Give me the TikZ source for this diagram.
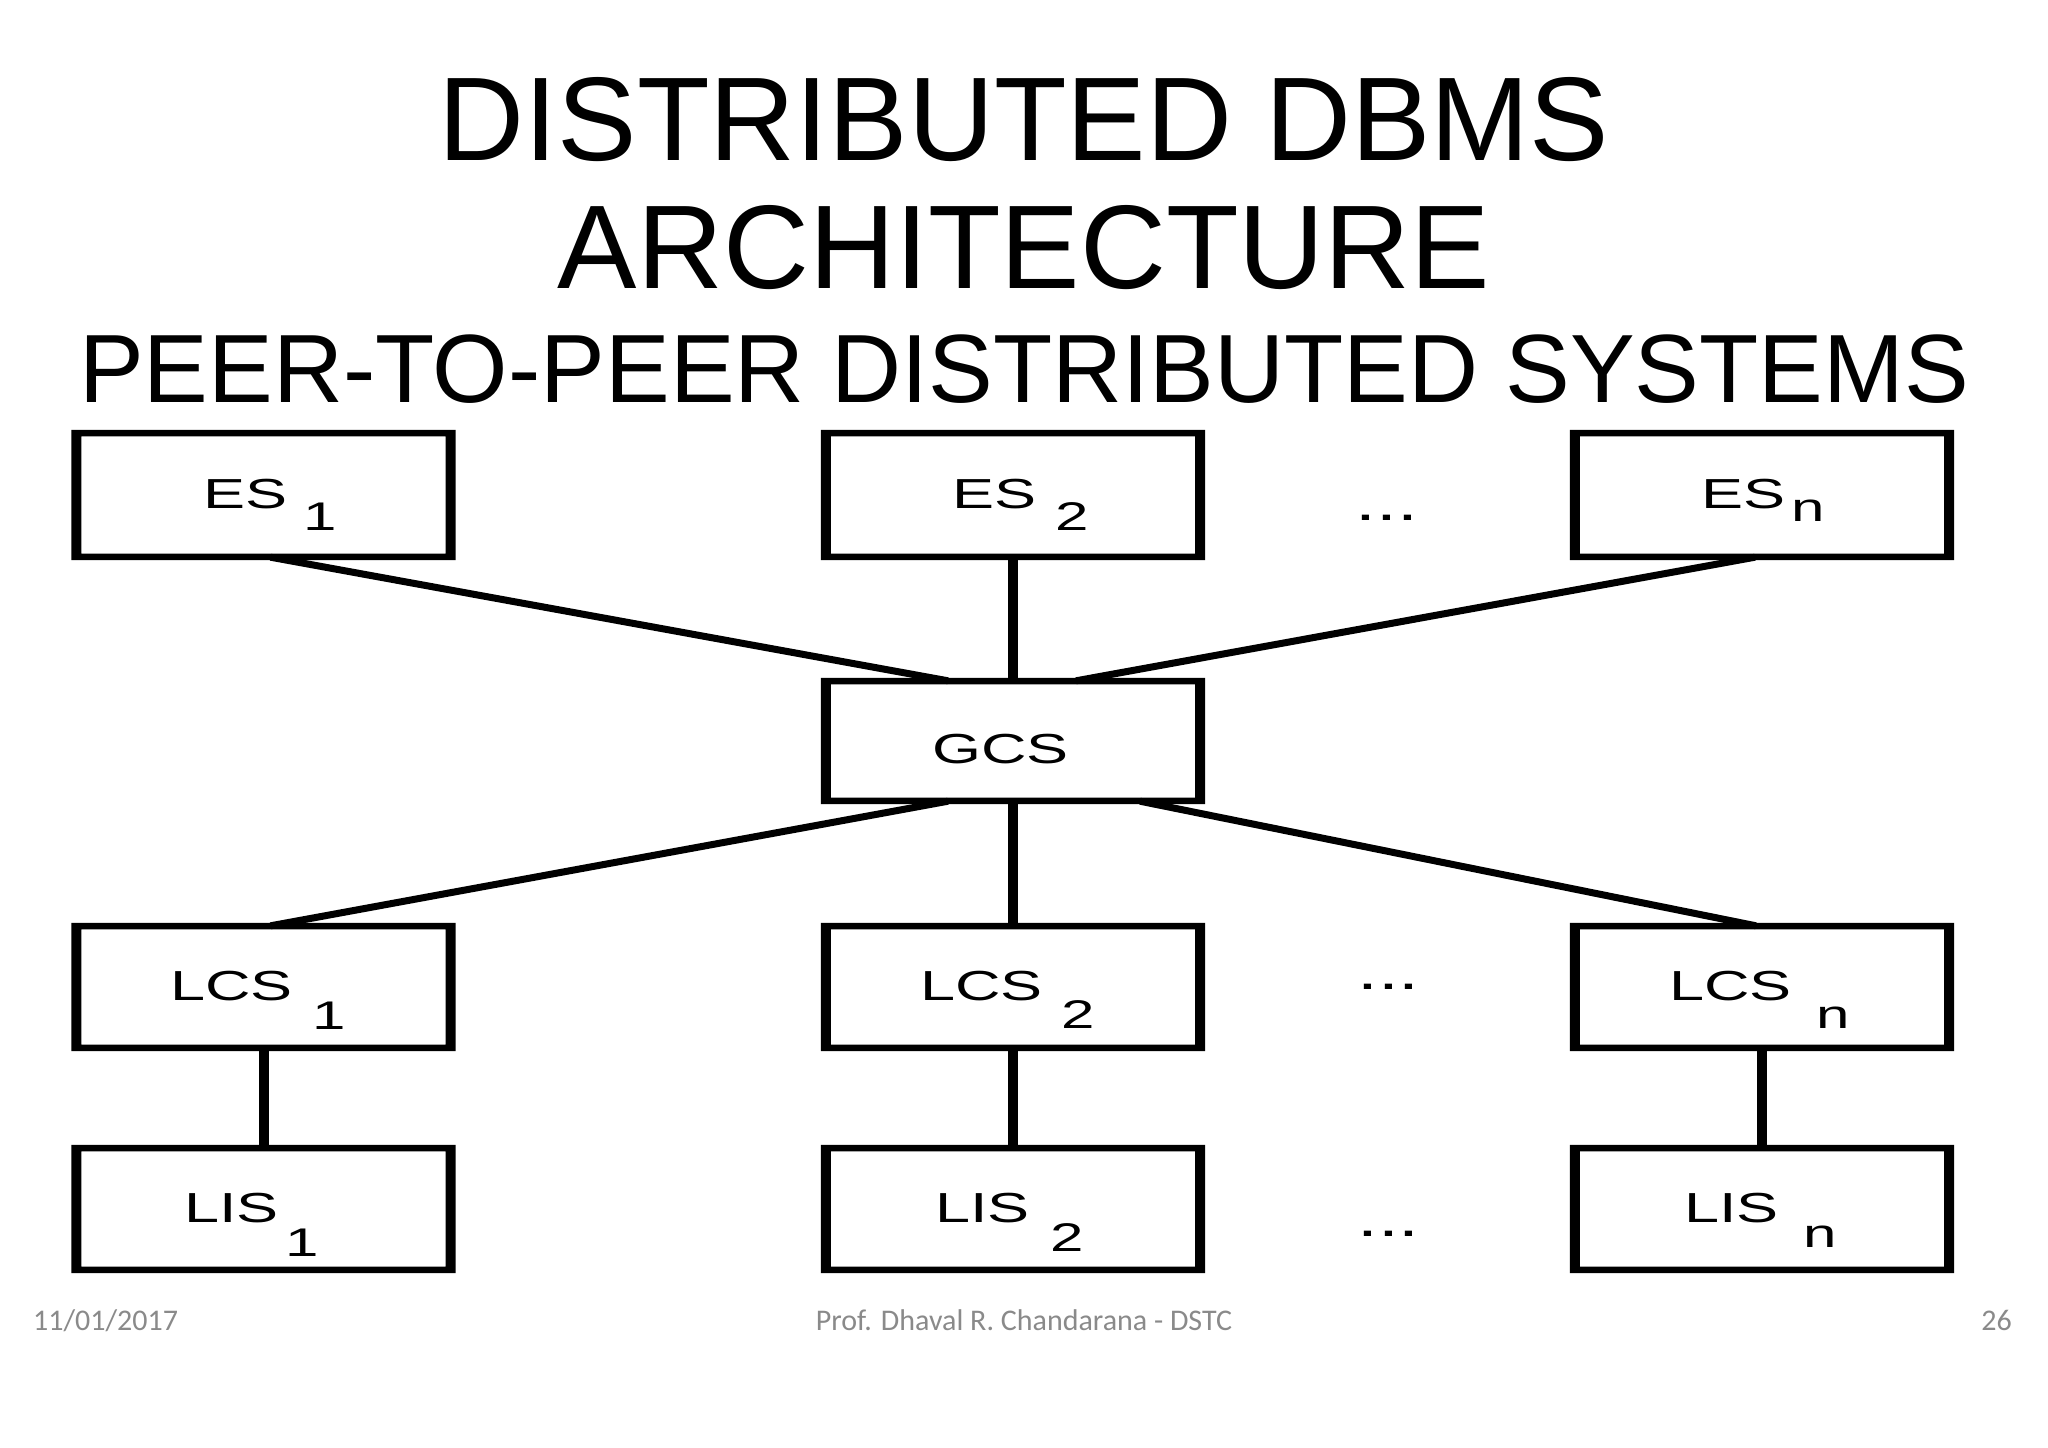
\documentclass[tikz,border=0pt]{standalone}
\usepackage{fontspec}
\setmainfont{Liberation Sans}
\newfontfamily\dfont[FakeStretch=1.5]{Liberation Sans}
\newfontfamily\ffont{Carlito}
\definecolor{footgray}{HTML}{8A8A8A}
\newcommand{\lbl}[4]{{\fontsize{42}{42}\selectfont #1}\kern#2pt\raisebox{-#3pt}{\fontsize{40}{40}\selectfont #4}}
\begin{document}
\begin{tikzpicture}[x=1pt,y=-1pt,
  boxnode/.style={rectangle, minimum width=384pt, inner sep=0pt},
  lbltxt/.style={anchor=base west, inner sep=0pt, font=\dfont},
  dotstxt/.style={anchor=base west, inner sep=0pt, font=\dfont\fontsize{50}{50}\selectfont},
  diag/.style={line width=7pt},
  vert/.style={line width=10pt},
  foot/.style={inner sep=0pt, font=\ffont\fontsize{30}{30}\selectfont, text=footgray},
  ttl/.style={anchor=base, inner sep=0pt}]
\fill[white] (0,0) rectangle (2048,1448);
\useasboundingbox (0,0) rectangle (2048,1448);

% titles
\node[ttl, font=\fontsize{119}{119}\selectfont] (t1) at (1024,160) {DISTRIBUTED DBMS};
\node[ttl, font=\fontsize{119}{119}\selectfont] (t2) at (1024,288) {ARCHITECTURE};
\node[ttl, font=\fontsize{97}{97}\selectfont] (t3) at (1024,402) {PEER-TO-PEER DISTRIBUTED SYSTEMS};

% boxes
\node[boxnode, minimum height=130pt] (es1) at (263.5,495) {};
\node[boxnode, minimum height=130pt] (es2) at (1013,495) {};
\node[boxnode, minimum height=130pt] (esn) at (1762,495) {};
\node[boxnode, minimum height=126pt] (gcs) at (1013,741) {};
\node[boxnode, minimum height=128pt] (lcs1) at (263.5,987) {};
\node[boxnode, minimum height=128pt] (lcs2) at (1013,987) {};
\node[boxnode, minimum height=128pt] (lcsn) at (1762,987) {};
\node[boxnode, minimum height=128pt] (lis1) at (263.5,1209) {};
\node[boxnode, minimum height=128pt] (lis2) at (1013,1209) {};
\node[boxnode, minimum height=128pt] (lisn) at (1762,1209) {};

% connectors
\draw[diag] ([xshift=7pt,yshift=3pt]es1.south) -- ([xshift=-65pt,yshift=-3pt]gcs.north);
\draw[vert] ([yshift=3pt]es2.south) -- ([yshift=-3pt]gcs.north);
\draw[diag] ([xshift=-7pt,yshift=3pt]esn.south) -- ([xshift=63pt,yshift=-3pt]gcs.north);
\draw[diag] ([xshift=-65pt,yshift=3pt]gcs.south) -- ([xshift=7pt,yshift=-3pt]lcs1.north);
\draw[vert] ([yshift=3pt]gcs.south) -- ([yshift=-3pt]lcs2.north);
\draw[diag] ([xshift=127pt,yshift=3pt]gcs.south) -- ([xshift=-6pt,yshift=-3pt]lcsn.north);
\draw[vert] ([yshift=3pt]lcs1.south) -- ([yshift=-3pt]lis1.north);
\draw[vert] ([yshift=3pt]lcs2.south) -- ([yshift=-3pt]lis2.north);
\draw[vert] ([yshift=3pt]lcsn.south) -- ([yshift=-3pt]lisn.north);

% box frames (thicker sides than top/bottom)
\foreach \n in {es1,es2,esn,gcs,lcs1,lcs2,lcsn,lis1,lis2,lisn}
  \fill[black, even odd rule] (\n.south west) rectangle (\n.north east)
    ([xshift=10pt,yshift=6.5pt]\n.south west) rectangle ([xshift=-10pt,yshift=-6.5pt]\n.north east);

% labels
\node[lbltxt] (es1t) at (203,508) {\lbl{ES}{16.5}{22}{1}};
\node[lbltxt] (es2t) at (952,508) {\lbl{ES}{19}{22}{2}};
\node[lbltxt] (esnt) at (1701,508) {\lbl{ES}{6}{13}{n}};
\node[lbltxt] (gcst) at (932,763) {{\fontsize{42}{42}\selectfont GCS}};
\node[lbltxt] (lcs1t) at (170,1000) {\lbl{LCS}{20}{29}{1}};
\node[lbltxt] (lcs2t) at (920,1000) {\lbl{LCS}{19}{28}{2}};
\node[lbltxt] (lcsnt) at (1669,1000) {\lbl{LCS}{25}{28}{n}};
\node[lbltxt] (lis1t) at (184,1222) {\lbl{LIS}{6.5}{34}{1}};
\node[lbltxt] (lis2t) at (935,1222) {\lbl{LIS}{21}{29}{2}};
\node[lbltxt] (lisnt) at (1684,1222) {\lbl{LIS}{25}{25}{n}};

% ellipses
\node[dotstxt] (d1) at (1355.5,520) {...};
\node[dotstxt] (d2) at (1357,989) {...};
\node[dotstxt] (d3) at (1357,1236) {...};

% footer
\node[foot, anchor=base west] (date) at (33,1330) {11/01/2017};
\node[foot, anchor=base] (auth) at (1024,1330) {Prof. Dhaval R. Chandarana - DSTC};
\node[foot, anchor=base east] (pg) at (2012,1330) {26};
\end{tikzpicture}
\end{document}
